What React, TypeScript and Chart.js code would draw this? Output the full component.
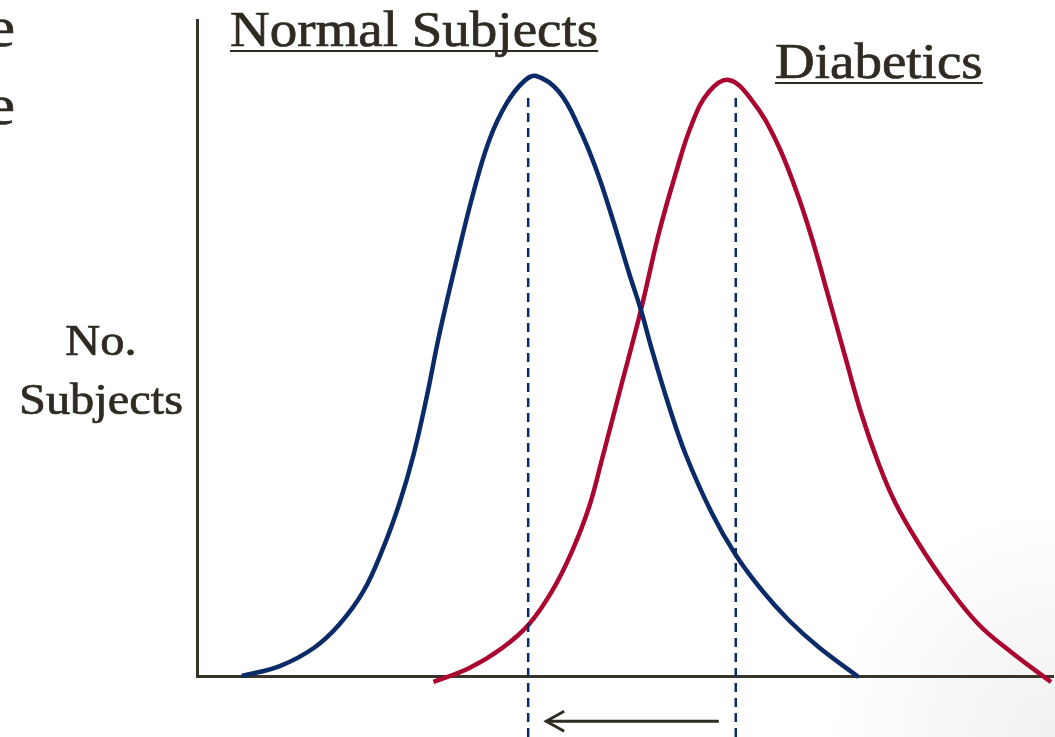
import React, { useEffect, useRef } from "react";
import { Chart, registerables } from "chart.js";

Chart.register(...registerables);

// Normal subjects distribution (x: glucose units 0-100, y: relative count 0-100)
const normalX = [5.24, 9.67, 13.64, 16.67, 19.46, 21.79, 23.66, 25.29, 26.81, 28.32, 30.3, 32.28, 34.15, 36.13, 38.11, 39.63, 42.31, 44.64, 46.62, 48.48, 50.47, 51.86, 53.15, 55.13, 57.11, 60.14, 62.94, 65.97, 69.11, 72.61, 77.27];
const normalY = [0, 1.52, 4.27, 7.93, 12.96, 19.66, 26.37, 33.69, 42.38, 52.13, 63.26, 73.63, 81.71, 87.2, 90.55, 91.46, 89.02, 83.54, 77.29, 69.97, 61.43, 55.79, 49.7, 41.16, 33.69, 24.85, 18.45, 13.11, 8.54, 4.42, -0.15];

// Diabetics distribution
const diabeticX = [27.62, 31.82, 35.66, 38.81, 41.49, 43.82, 45.8, 47.32, 49.3, 51.86, 53.96, 55.94, 57.81, 59.79, 62.12, 64.8, 67.6, 69.93, 71.79, 73.78, 75.76, 77.62, 79.6, 81.59, 84.27, 87.41, 91.26, 95.1, 99.77];
const diabeticY = [-0.91, 1.22, 4.27, 7.93, 12.96, 19.05, 25.76, 33.08, 42.99, 55.79, 67.53, 76.68, 84.15, 89.02, 90.85, 87.8, 81.71, 74.24, 66.92, 57.77, 48.48, 39.94, 32.47, 26.37, 20.27, 14.18, 7.93, 3.66, -0.91];

// Means (dashed lines) and shift arrow
const meanNormal = 38.69;
const meanDiabetic = 62.94;
const meanLineTop = 88.1;
const meanLineBottom = -10;
const arrowFromX = 60.96;
const arrowToX = 40.79;
const arrowY = -6.9;

const titleNormal = "Normal Subjects";
const titleDiabetic = "Diabetics";
const yLabelLines = ["No.", "Subjects"];
const edgeFragments = ["e", "e"];

const BLUE = "#0a2a68";
const RED = "#ab0630";
const DARK = "#2f2b22";
const AXIS = "#38342a";

const pts = (xs: number[], ys: number[]) => xs.map((x, i) => ({ x, y: ys[i] }));

function drawStretched(ctx: CanvasRenderingContext2D, text: string, x: number, y: number, font: string, align: "left" | "center" | "right", underline: number | null) {
  const sx = 1.1;
  ctx.save();
  ctx.font = font;
  ctx.fillStyle = DARK;
  ctx.strokeStyle = DARK;
  ctx.lineWidth = 0.7;
  ctx.textBaseline = "alphabetic";
  const w = ctx.measureText(text).width * sx;
  let left = x;
  if (align === "center") left = x - w / 2;
  if (align === "right") left = x - w;
  ctx.translate(left, y);
  ctx.scale(sx, 1);
  ctx.textAlign = "left";
  ctx.fillText(text, 0, 0);
  ctx.strokeText(text, 0, 0);
  ctx.restore();
  if (underline !== null) {
    ctx.save();
    ctx.strokeStyle = DARK;
    ctx.lineWidth = 2.2;
    ctx.beginPath();
    ctx.moveTo(left, y + underline);
    ctx.lineTo(left + w, y + underline);
    ctx.stroke();
    ctx.restore();
  }
}

const decorPlugin = {
  id: "decor",
  beforeDraw(chart: any) {
    const ctx = chart.ctx as CanvasRenderingContext2D;
    const W = chart.width, H = chart.height;
    ctx.save();
    ctx.fillStyle = "#ffffff";
    ctx.fillRect(0, 0, W, H);
    const g = ctx.createRadialGradient(W, H, 0, W, H, 230);
    g.addColorStop(0, "rgba(0,0,0,0.06)");
    g.addColorStop(1, "rgba(0,0,0,0)");
    ctx.fillStyle = g;
    ctx.fillRect(0, 0, W, H);
    ctx.restore();
  },
  afterDraw(chart: any) {
    const ctx = chart.ctx as CanvasRenderingContext2D;
    const xs = chart.scales.x, ys = chart.scales.y;
    // arrow head
    const tipX = xs.getPixelForValue(arrowToX);
    const tipY = ys.getPixelForValue(arrowY);
    ctx.save();
    ctx.strokeStyle = DARK;
    ctx.lineWidth = 2.8;
    ctx.lineCap = "butt";
    ctx.lineJoin = "miter";
    ctx.beginPath();
    ctx.moveTo(tipX + 18, tipY - 10);
    ctx.lineTo(tipX, tipY);
    ctx.lineTo(tipX + 18, tipY + 10);
    ctx.stroke();
    ctx.restore();

    const serif = '"Liberation Serif", "Times New Roman", serif';
    drawStretched(ctx, titleNormal, 230, 46, `50px ${serif}`, "left", 5);
    drawStretched(ctx, titleDiabetic, 775, 78, `50px ${serif}`, "left", 5);
    drawStretched(ctx, yLabelLines[0], 101, 355, `44px ${serif}`, "center", null);
    drawStretched(ctx, yLabelLines[1], 101, 414, `44px ${serif}`, "center", null);
    drawStretched(ctx, edgeFragments[0], 15, 46, `58px ${serif}`, "right", null);
    drawStretched(ctx, edgeFragments[1], 15, 124, `58px ${serif}`, "right", null);
  },
};

export default function App() {
  const ref = useRef<HTMLCanvasElement>(null);
  useEffect(() => {
    if (!ref.current) return;
    const chart = new Chart(ref.current, {
      type: "line",
      data: {
        datasets: [
          {
            label: "Normal mean",
            data: [{ x: meanNormal, y: meanLineTop }, { x: meanNormal, y: meanLineBottom }],
            borderColor: BLUE,
            borderWidth: 2.5,
            borderDash: [9, 6],
            pointRadius: 0,
            clip: false as any,
          },
          {
            label: "Diabetic mean",
            data: [{ x: meanDiabetic, y: meanLineTop }, { x: meanDiabetic, y: meanLineBottom }],
            borderColor: BLUE,
            borderWidth: 2.5,
            borderDash: [9, 6],
            pointRadius: 0,
            clip: false as any,
          },
          {
            label: "Normal Subjects",
            data: pts(normalX, normalY),
            borderColor: BLUE,
            borderWidth: 4.5,
            pointRadius: 0,
            tension: 0.4,
            borderCapStyle: "butt",
            clip: false as any,
          },
          {
            label: "Diabetics",
            data: pts(diabeticX, diabeticY),
            borderColor: RED,
            borderWidth: 4.5,
            pointRadius: 0,
            tension: 0.4,
            borderCapStyle: "butt",
            clip: false as any,
          },
          {
            label: "Shift",
            data: [{ x: arrowFromX, y: arrowY }, { x: arrowToX, y: arrowY }],
            borderColor: DARK,
            borderWidth: 2.8,
            pointRadius: 0,
            clip: false as any,
          },
        ],
      },
      options: {
        animation: false,
        responsive: false,
        events: [],
        layout: { padding: { left: 197, right: 2, top: 20, bottom: 61 } },
        plugins: { legend: { display: false }, tooltip: { enabled: false }, title: { display: false } },
        scales: {
          x: {
            type: "linear",
            min: 0,
            max: 100,
            ticks: { display: false },
            grid: { display: false, drawTicks: false },
            border: { display: true, color: AXIS, width: 3 },
            afterFit: (s: any) => { s.height = 0; },
          },
          y: {
            type: "linear",
            min: 0,
            max: 100,
            ticks: { display: false },
            grid: { display: false, drawTicks: false },
            border: { display: true, color: AXIS, width: 3 },
            afterFit: (s: any) => { s.width = 0; },
          },
        },
      },
      plugins: [decorPlugin],
    });
    return () => chart.destroy();
  }, []);
  return (
    <div style={{ position: "fixed", left: 0, top: 0, width: 1055, height: 737 }}>
      <canvas ref={ref} width={1055} height={737} />
    </div>
  );
}
